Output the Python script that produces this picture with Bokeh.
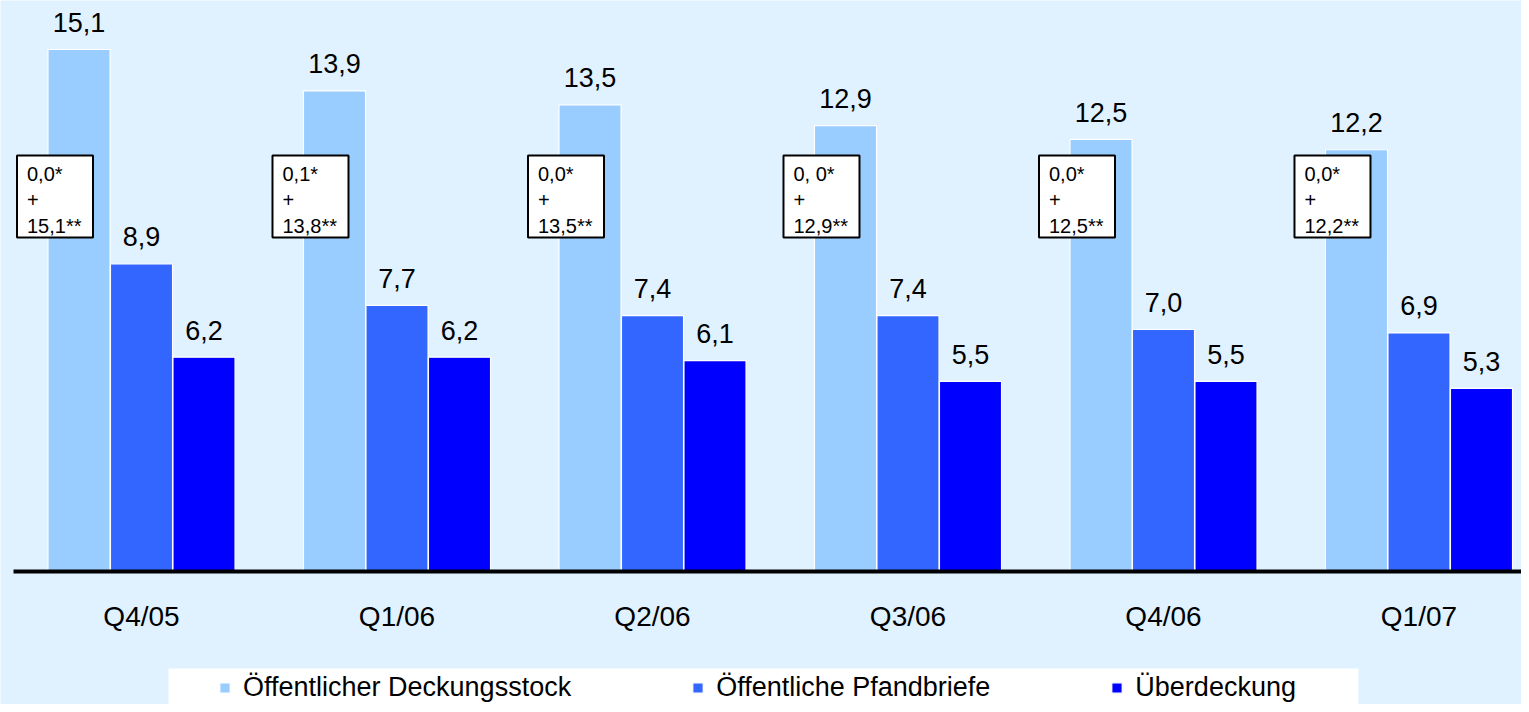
from bokeh.plotting import figure
from bokeh.models import (ColumnDataSource, Range1d, LinearAxis, FixedTicker,
                          Legend, LegendItem, BoxAnnotation)
from bokeh.transform import dodge
from bokeh.core.properties import value
from bokeh.embed import file_html
from bokeh.resources import INLINE

# ---------------- data ----------------
quarters = ["Q4/05", "Q1/06", "Q2/06", "Q3/06", "Q4/06", "Q1/07"]
deckungsstock = [15.1, 13.9, 13.5, 12.9, 12.5, 12.2]
pfandbriefe = [8.9, 7.7, 7.4, 7.4, 7.0, 6.9]
ueberdeckung = [6.2, 6.2, 6.1, 5.5, 5.5, 5.3]
note_star = ["0,0*", "0,1*", "0,0*", "0, 0*", "0,0*", "0,0*"]
note_plus = ["+", "+", "+", "+", "+", "+"]
note_dstar = ["15,1**", "13,8**", "13,5**", "12,9**", "12,5**", "12,2**"]
series_names = ["Öffentlicher Deckungsstock", "Öffentliche Pfandbriefe", "Überdeckung"]
colors = ["#99CCFF", "#3366FF", "#0000FF"]

BG = "#E0F2FF"
FONT = "Liberation Sans"


def fmt(v):
    return f"{v:.1f}".replace(".", ",")


idx = list(range(len(quarters)))
src = ColumnDataSource(dict(
    idx=idx,
    d=deckungsstock, p=pfandbriefe, u=ueberdeckung,
    dl=[fmt(v) for v in deckungsstock],
    pl=[fmt(v) for v in pfandbriefe],
    ul=[fmt(v) for v in ueberdeckung],
    n1=note_star, n2=note_plus, n3=note_dstar,
    box_y=[10.85] * len(quarters),
))

p = figure(width=1521, height=704,
           x_range=Range1d(-0.5519, 5.4012), y_range=Range1d(-3.847, 16.517),
           output_backend="svg", toolbar_location=None,
           x_axis_location=None, y_axis_location=None,
           min_border=0, min_border_left=0, min_border_right=0,
           min_border_top=0, min_border_bottom=0,
           background_fill_color=BG, border_fill_color=BG,
           outline_line_color=None)
p.xgrid.visible = False
p.ygrid.visible = False

# legend background
p.add_layout(BoxAnnotation(left=0.1057, right=4.763, top=-2.806,
                           fill_color="white", fill_alpha=1.0,
                           line_color=None, level="underlay"))

W = 0.243
OFF = 0.2446
renderers = []
for col, off, c in [("d", -OFF, colors[0]), ("p", 0.0, colors[1]), ("u", OFF, colors[2])]:
    r = p.vbar(x=dodge("idx", off, range=p.x_range), top=col, bottom=0, width=W,
               source=src, fill_color=c, line_color="white", line_width=1.2)
    renderers.append(r)
    p.text(x=dodge("idx", off, range=p.x_range), y=col, text=col + "l", source=src,
           text_align="center", text_baseline="middle", y_offset=-27,
           text_font=value(FONT), text_font_size="27px", text_color="black")

# note boxes
p.rect(x=dodge("idx", -0.3386, range=p.x_range), y="box_y", width=76, height=82,
       width_units="screen", height_units="screen", source=src,
       fill_color="white", line_color="black", line_width=2)
for col, yo in [("n1", -22.5), ("n2", 3.5), ("n3", 29.5)]:
    p.text(x=dodge("idx", -0.3386, range=p.x_range), y="box_y", text=col, source=src,
           x_offset=-28, y_offset=yo, text_align="left", text_baseline="middle",
           text_font=value(FONT), text_font_size="20px", text_color="black")

# category axis at y = 0
ax = LinearAxis(ticker=FixedTicker(ticks=idx),
                major_label_overrides={i: q for i, q in zip(idx, quarters)},
                fixed_location=0, bounds=(-0.50, 5.4012),
                axis_line_color="black", axis_line_width=4,
                major_tick_line_color=None, minor_tick_line_color=None,
                major_tick_out=0, major_tick_in=0,
                major_label_standoff=29,
                major_label_text_font=FONT, major_label_text_font_size="28px",
                major_label_text_color="black")
p.add_layout(ax, "below")

legend = Legend(items=[LegendItem(label=n, renderers=[r]) for n, r in zip(series_names, renderers)],
                orientation="horizontal", location=(218, 1),
                background_fill_alpha=0, border_line_alpha=0,
                padding=0, margin=0, spacing=120,
                glyph_width=13, glyph_height=13, label_standoff=12,
                label_text_font=FONT, label_text_font_size="27px",
                label_text_color="black")
p.add_layout(legend, "center")

open("out.html", "w").write(file_html(p, INLINE))
